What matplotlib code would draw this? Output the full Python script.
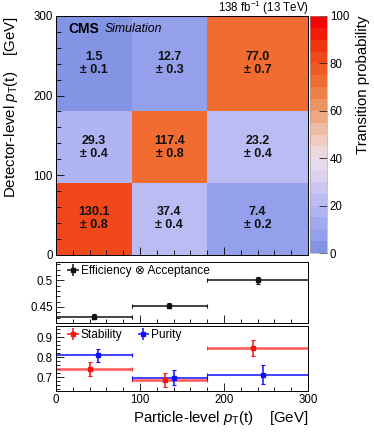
import numpy as np
import matplotlib
matplotlib.use("Agg")
import matplotlib.pyplot as plt
from matplotlib.colors import ListedColormap, BoundaryNorm
from matplotlib.ticker import MultipleLocator, FormatStrFormatter

plt.rcParams['font.family'] = ['Liberation Sans', 'DejaVu Sans']
plt.rcParams['mathtext.fontset'] = 'custom'
plt.rcParams['mathtext.rm'] = 'Liberation Sans'
plt.rcParams['mathtext.it'] = 'Liberation Sans:italic'
plt.rcParams['mathtext.bf'] = 'Liberation Sans:bold'

# ---------------- data ----------------
bin_edges = [0, 90, 180, 300]
# response matrix: rows = detector-level bins (low->high), cols = particle-level bins
counts = [[130.1, 37.4, 7.4],
          [29.3, 117.4, 23.2],
          [1.5, 12.7, 77.0]]
count_errs = [[0.8, 0.4, 0.2],
              [0.4, 0.8, 0.4],
              [0.1, 0.3, 0.7]]

eff_vals = [0.432, 0.4525, 0.500]
eff_x = [45, 135, 240]
eff_err = [0.005, 0.005, 0.007]

stab_vals = [0.742, 0.6885, 0.845]
stab_x = [40, 130, 234]
stab_err = [0.033, 0.035, 0.039]

pur_vals = [0.8085, 0.698, 0.713]
pur_x = [50, 140, 246]
pur_err = [0.030, 0.037, 0.046]

cbar_colors = ['#8494e4', '#94a0ec', '#a2aaef', '#b0b4f2', '#bcbcf4',
               '#ccc6f2', '#dcd2ee', '#e6dcec', '#efd8dc', '#f0ccc0',
               '#f0bca4', '#eea884', '#ec9462', '#ee8048', '#f06c30',
               '#f05a24', '#f0481a', '#f03410', '#f01c08', '#f00404']

# ---------------- figure ----------------
W, H = 374, 433
fig = plt.figure(figsize=(W / 100, H / 100), dpi=100)

def rect(l, t, r, b):
    return [l / W, 1 - b / H, (r - l) / W, (b - t) / H]

ax = fig.add_axes(rect(56, 16, 308, 254.5))
cax = fig.add_axes(rect(310, 16, 327, 253))
ax2 = fig.add_axes(rect(56, 261.7, 308, 322.7))
ax3 = fig.add_axes(rect(56, 326, 308, 391))

edges = np.array(bin_edges, dtype=float)
C = np.array(counts)
Cerr = np.array(count_errs)
prob = C / C.sum(axis=0, keepdims=True) * 100.0

cmap = ListedColormap(cbar_colors)
norm = BoundaryNorm(np.linspace(0, 100, 21), cmap.N)
mesh = ax.pcolormesh(edges, edges, prob, cmap=cmap, norm=norm,
                     edgecolors='face', linewidth=0.0)

xc = 0.5 * (edges[:-1] + edges[1:])
for i in range(3):
    for j in range(3):
        ax.text(xc[j], xc[i], f"{C[i, j]:.1f}\n\u00b1 {Cerr[i, j]:.1f}",
                ha='center', va='center', multialignment='center',
                fontsize=9, fontweight='bold', linespacing=1.12, color='#111111')

ax.set_xlim(0, 300)
ax.set_ylim(0, 300)
ax.xaxis.set_major_locator(MultipleLocator(100))
ax.xaxis.set_minor_locator(MultipleLocator(20))
ax.yaxis.set_major_locator(MultipleLocator(100))
ax.yaxis.set_minor_locator(MultipleLocator(20))
ax.tick_params(which='both', direction='in', labelbottom=False, labelsize=8.3, pad=2.2)
ax.tick_params(which='major', length=6, width=0.6)
ax.tick_params(which='minor', length=3.5, width=0.6)
ax.set_ylabel(r"Detector-level $p_{\mathrm{T}}$(t)    [GeV]", fontsize=10.8, loc='top')
ax.yaxis.set_label_coords(-0.143, 1.0)

ax.text(0.048, 0.945, "CMS", transform=ax.transAxes, fontsize=10,
        fontweight='bold', ha='left', va='center')
ax.text(0.195, 0.945, "Simulation", transform=ax.transAxes, fontsize=8.8,
        style='italic', ha='left', va='center')
fig.text(308.5 / W, 1 - 11.7 / H, r"138 fb$^{-1}$ (13 TeV)",
         fontsize=8.3, ha='right', va='baseline')

cb = fig.colorbar(mesh, cax=cax, ticks=np.arange(0, 101, 20))
cb.outline.set_linewidth(0.4)
cb.outline.set_edgecolor('#999999')
cax.tick_params(direction='in', length=6, width=0.6, labelsize=8.3, pad=2, color='#222222')
cax.minorticks_off()
cb.set_label("Transition probability", fontsize=10.8, loc='top')
cax.yaxis.set_label_coords(2.72, 1.0)

# ---------------- efficiency panel ----------------
ax2.hlines(eff_vals, edges[:-1], edges[1:], color='#111111', lw=1.1)
ax2.errorbar(xc, eff_vals, xerr=0.5 * np.diff(edges), fmt='none', ecolor='#111111',
             elinewidth=0, capsize=1.5, capthick=0.8)
ax2.errorbar(eff_x, eff_vals, yerr=eff_err, fmt='s', ms=2.2, color='#111111',
             elinewidth=1.1, capsize=1.2, capthick=0.8)
h_eff = ax2.errorbar([np.nan], [np.nan], xerr=[1], yerr=[1], fmt='s', ms=2.2,
                     color='#111111', elinewidth=1.1, label="Efficiency \u2297 Acceptance")
ax2.set_xlim(0, 300)
ax2.set_ylim(0.4205, 0.535)
ax2.set_yticks([0.45, 0.5])
ax2.yaxis.set_major_formatter(FormatStrFormatter('%g'))
ax2.yaxis.set_minor_locator(MultipleLocator(0.01))
ax2.xaxis.set_major_locator(MultipleLocator(100))
ax2.xaxis.set_minor_locator(MultipleLocator(20))
ax2.tick_params(which='both', direction='in', labelbottom=False, labelsize=8.3, pad=2.2)
ax2.tick_params(which='major', length=6, width=0.6)
ax2.tick_params(which='minor', length=3, width=0.6)
ax2.legend(handles=[h_eff], loc='upper left', bbox_to_anchor=(0.018, 1.06),
           frameon=False, fontsize=8.6, handlelength=0.9, handletextpad=0.2,
           borderaxespad=0.2)

# ---------------- stability / purity panel ----------------
ax3.hlines(stab_vals, edges[:-1], edges[1:], color='#ff2020', lw=1.8, alpha=0.75)
ax3.errorbar(xc, stab_vals, xerr=0.5 * np.diff(edges), fmt='none', ecolor='#ff3030',
             elinewidth=0, capsize=1.5, capthick=0.8)
ax3.hlines(pur_vals, edges[:-1], edges[1:], color='#1010ff', lw=1.1)
ax3.errorbar(xc, pur_vals, xerr=0.5 * np.diff(edges), fmt='none', ecolor='#1010ff',
             elinewidth=0, capsize=1.5, capthick=0.8)
ax3.errorbar(stab_x, stab_vals, yerr=stab_err, fmt='s', ms=2.4, color='#ff1010',
             elinewidth=1.1, capsize=1.2, capthick=0.8)
ax3.errorbar(pur_x, pur_vals, yerr=pur_err, fmt='s', ms=2.4, color='#1010ff',
             elinewidth=1.1, capsize=1.2, capthick=0.8)
h_st = ax3.errorbar([np.nan], [np.nan], xerr=[1], yerr=[1], fmt='s', ms=2.2,
                    color='#ff1010', elinewidth=1.1, label="Stability")
h_pu = ax3.errorbar([np.nan], [np.nan], xerr=[1], yerr=[1], fmt='s', ms=2.2,
                    color='#1010ff', elinewidth=1.1, label="Purity")
ax3.set_xlim(0, 300)
ax3.set_ylim(0.632, 0.955)
ax3.set_yticks([0.7, 0.8, 0.9])
ax3.yaxis.set_major_formatter(FormatStrFormatter('%g'))
ax3.yaxis.set_minor_locator(MultipleLocator(0.02))
ax3.xaxis.set_major_locator(MultipleLocator(100))
ax3.xaxis.set_minor_locator(MultipleLocator(20))
ax3.tick_params(which='both', direction='in', labelsize=8.3, pad=2.5)
ax3.tick_params(which='major', length=6, width=0.6)
ax3.tick_params(which='minor', length=3, width=0.6)
ax3.legend(handles=[h_st, h_pu], loc='upper left', bbox_to_anchor=(0.018, 1.06),
           frameon=False, fontsize=8.6, handlelength=0.9, handletextpad=0.2,
           borderaxespad=0.2, ncol=2, columnspacing=1.3)
ax3.set_xlabel(r"Particle-level $p_{\mathrm{T}}$(t)    [GeV]", fontsize=10.8, loc='right')
ax3.xaxis.set_label_coords(1.0, -0.27)

for a in (ax, ax2, ax3):
    for s in a.spines.values():
        s.set_linewidth(0.7)

fig.savefig("out.png", dpi=100)
